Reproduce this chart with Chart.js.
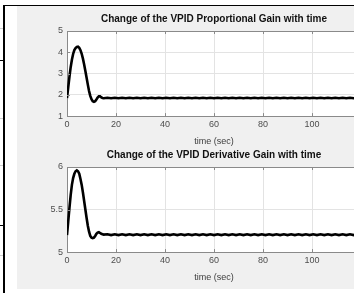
<!DOCTYPE html>
<html>
<head>
<meta charset="utf-8">
<script src="https://cdn.jsdelivr.net/npm/chart.js@4.4.1/dist/chart.umd.min.js"></script>
<style>
  html, body { margin: 0; padding: 0; width: 354px; height: 293px; overflow: hidden; background: #fff; }
  .fig { position: absolute; left: 17px; top: 6px; width: 337px; height: 283px; background: #f0f0f0; }
  canvas { position: absolute; left: 0; }
  .rule { position: absolute; background: #000; }
  .faint { position: absolute; background: #cfcfcf; }
</style>
</head>
<body>
<!-- bits of the table the figure sits in -->
<div class="fig"></div>
<div class="rule" style="left:3px; top:5px; width:2px; height:288px;"></div>
<div class="rule" style="left:3px; top:5px; width:351px; height:1px;"></div>
<div class="rule" style="left:0; top:60px; width:4px; height:1px;"></div>
<div class="rule" style="left:0; top:225px; width:4px; height:1px;"></div>
<div class="faint" style="left:0; top:28px; width:3px; height:1px;"></div>
<div class="faint" style="left:0; top:118px; width:3px; height:1px;"></div>
<div class="faint" style="left:0; top:165px; width:3px; height:1px;"></div>
<div class="faint" style="left:0; top:255px; width:3px; height:1px;"></div>

<canvas id="prop-gain-chart" width="375" height="147" style="top:0px"></canvas>
<canvas id="deriv-gain-chart" width="375" height="147" style="top:136px"></canvas>

<script>
// time axis (sec), fine steps through the transient, coarser afterwards
const timeSec = [
  0, 0.5, 1, 1.5, 2, 2.5, 3, 3.5, 4, 4.5, 5, 5.5, 6, 6.5, 7, 7.5, 8, 8.5, 9, 9.5,
  10, 10.5, 11, 11.5, 12, 12.5, 13, 13.5, 14, 14.5,
  15, 16.5, 18, 19.5, 21, 22.5, 24, 25.5, 27, 28.5, 30, 31.5, 33, 34.5, 36, 37.5,
  39, 40.5, 42, 43.5, 45, 46.5, 48, 49.5, 51, 52.5, 54, 55.5, 57, 58.5, 60, 61.5,
  63, 64.5, 66, 67.5, 69, 70.5, 72, 73.5, 75, 76.5, 78, 79.5, 81, 82.5, 84, 85.5,
  87, 88.5, 90, 91.5, 93, 94.5, 96, 97.5, 99, 100.5, 102, 103.5, 105, 106.5, 108,
  109.5, 111, 112.5, 114, 115.5, 117, 118.5, 120
];

// VPID proportional gain
const propGain = [
  1.85, 2.35, 2.85, 3.3, 3.65, 3.92, 4.1, 4.2, 4.25, 4.26, 4.21, 4.1, 3.93, 3.7, 3.43, 3.12, 2.8, 2.48, 2.18, 1.95,
  1.79, 1.7, 1.67, 1.7, 1.78, 1.87, 1.93, 1.93, 1.88, 1.85,
  1.84, 1.86, 1.84, 1.86, 1.84, 1.86, 1.84, 1.86, 1.84, 1.86, 1.84, 1.86, 1.84, 1.86, 1.84, 1.86,
  1.84, 1.86, 1.84, 1.86, 1.84, 1.86, 1.84, 1.86, 1.84, 1.86, 1.84, 1.86, 1.84, 1.86, 1.84, 1.86,
  1.84, 1.86, 1.84, 1.86, 1.84, 1.86, 1.84, 1.86, 1.84, 1.86, 1.84, 1.86, 1.84, 1.86, 1.84, 1.86,
  1.84, 1.86, 1.84, 1.86, 1.84, 1.86, 1.84, 1.86, 1.84, 1.86, 1.84, 1.86, 1.84, 1.86, 1.84,
  1.86, 1.84, 1.86, 1.84, 1.86, 1.84, 1.86, 1.85
];

// VPID derivative gain
const derivGain = [
  5.2, 5.36, 5.52, 5.67, 5.79, 5.87, 5.92, 5.95, 5.96, 5.95, 5.92, 5.86, 5.79, 5.7, 5.6, 5.5, 5.4, 5.31, 5.24, 5.19,
  5.17, 5.165, 5.17, 5.19, 5.215, 5.23, 5.235, 5.225, 5.215, 5.21,
  5.205, 5.21, 5.2, 5.21, 5.2, 5.21, 5.2, 5.21, 5.2, 5.21, 5.2, 5.21, 5.2, 5.21, 5.2, 5.21,
  5.2, 5.21, 5.2, 5.21, 5.2, 5.21, 5.2, 5.21, 5.2, 5.21, 5.2, 5.21, 5.2, 5.21, 5.2, 5.21,
  5.2, 5.21, 5.2, 5.21, 5.2, 5.21, 5.2, 5.21, 5.2, 5.21, 5.2, 5.21, 5.2, 5.21, 5.2, 5.21,
  5.2, 5.21, 5.2, 5.21, 5.2, 5.21, 5.2, 5.21, 5.2, 5.21, 5.2, 5.21, 5.2, 5.21, 5.2,
  5.21, 5.2, 5.21, 5.2, 5.21, 5.2, 5.21, 5.205
];

const xTicks = [0, 20, 40, 60, 80, 100, 120];
const propTicks = [1, 2, 3, 4, 5];
const derivTicks = [5, 5.5, 6];

const FONT = '"Liberation Sans", Arial, sans-serif';
const axisColor = '#8a8a8a';
const gridColor = '#e3e3e3';
const labelColor = '#4d4d4d';

// white plot area + MATLAB style box and inward tick marks
const axesBox = {
    id: 'axesBox',
    beforeDraw(chart) {
        const a = chart.chartArea, ctx = chart.ctx;
        ctx.save();
        ctx.fillStyle = '#fff';
        ctx.fillRect(a.left, a.top, a.right - a.left, a.bottom - a.top);
        ctx.restore();
    },
    afterDraw(chart) {
        const a = chart.chartArea, ctx = chart.ctx;
        const xs = chart.scales.x, ys = chart.scales.y;
        ctx.save();
        ctx.strokeStyle = axisColor;
        ctx.lineWidth = 1;
        ctx.beginPath();
        ctx.moveTo(a.left, a.top + 0.5);
        ctx.lineTo(a.right, a.top + 0.5);
        xs.ticks.forEach(t => {
            const px = Math.round(xs.getPixelForValue(t.value)) + 0.5;
            ctx.moveTo(px, a.bottom); ctx.lineTo(px, a.bottom - 3);
            ctx.moveTo(px, a.top); ctx.lineTo(px, a.top + 3);
        });
        ys.ticks.forEach(t => {
            const py = Math.round(ys.getPixelForValue(t.value)) + 0.5;
            ctx.moveTo(a.left, py); ctx.lineTo(a.left + 3, py);
        });
        ctx.stroke();
        ctx.restore();
    }
};

function makeGainChart(canvasId, title, values, yTicks) {
    const ctx = document.getElementById(canvasId).getContext('2d');
    return new Chart(ctx, {
        type: 'line',
        data: {
            datasets: [{
                data: timeSec.map((t, i) => ({ x: t, y: values[i] })),
                borderColor: '#000',
                borderWidth: 2.6,
                pointRadius: 0,
                tension: 0,
                fill: false
            }]
        },
        options: {
            responsive: false,
            animation: false,
            devicePixelRatio: 1,
            layout: { padding: { left: 0, right: 14, top: 0, bottom: 0 } },
            scales: {
                x: {
                    type: 'linear',
                    min: xTicks[0], max: xTicks[xTicks.length - 1],
                    afterBuildTicks: s => { s.ticks = xTicks.map(v => ({ value: v })); },
                    grid: { color: gridColor, drawTicks: false },
                    border: { color: axisColor },
                    ticks: { color: labelColor, padding: 3.5, font: { family: FONT, size: 9 }, maxRotation: 0 },
                    title: {
                        display: true, text: 'time (sec)', color: '#3c3c3c',
                        font: { family: FONT, size: 9 }, padding: { top: 2.3, bottom: 0 }
                    }
                },
                y: {
                    min: yTicks[0], max: yTicks[yTicks.length - 1],
                    afterBuildTicks: s => { s.ticks = yTicks.map(v => ({ value: v })); },
                    afterFit: s => { s.width = 67; },
                    grid: { color: gridColor, drawTicks: false },
                    border: { color: axisColor },
                    ticks: {
                        color: labelColor, padding: 4, font: { family: FONT, size: 9 },
                        callback: v => String(v)
                    }
                }
            },
            plugins: {
                legend: { display: false },
                tooltip: { enabled: false },
                title: {
                    display: true, text: title, fullSize: false, color: '#111',
                    font: { family: FONT, size: 10, weight: 'bold' },
                    padding: { top: 13, bottom: 6 }
                }
            }
        },
        plugins: [axesBox]
    });
}

makeGainChart('prop-gain-chart', 'Change of the VPID Proportional Gain with time', propGain, propTicks);
makeGainChart('deriv-gain-chart', 'Change of the VPID Derivative Gain with time', derivGain, derivTicks);
</script>
</body>
</html>
